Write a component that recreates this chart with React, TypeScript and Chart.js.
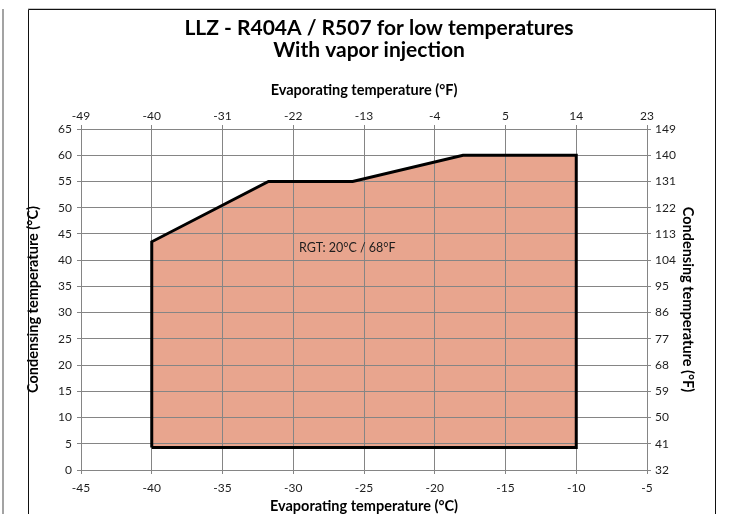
import React, { useEffect, useRef } from 'react';
import { Chart, registerables } from 'chart.js';

Chart.register(...registerables);

// ---- data ----
const titleLines = ['LLZ - R404A / R507 for low temperatures', 'With vapor injection'];
const evaporatingC = [-40, -40, -31.75, -25.8, -18, -10, -10, -40];
const condensingC = [4.3, 43.5, 55, 55, 60, 60, 4.3, 4.3];
const topTickLabelsF = ['-49', '-40', '-31', '-22', '-13', '-4', '5', '14', '23'];
const rightTickLabelsF = ['32', '41', '50', '59', '68', '77', '86', '95', '104', '113', '122', '131', '140', '149'];
const xRangeC = [-45, -5];
const yRangeC = [0, 65];
const tickStep = 5;
const rgtLabel = 'RGT: 20°C / 68°F';
const rgtPosition = [-29.6, 42.4];
const axisTitles = {
  bottom: 'Evaporating temperature (°C)',
  top: 'Evaporating temperature (°F)',
  left: 'Condensing temperature (°C)',
  right: 'Condensing temperature (°F)',
};

const FONT = 'Lato';
const GRID = '#858585';
const TEXT = '#1e1e1e';
const FILL = '#E8A58E';

const framePlugin = {
  id: 'frameAndTitle',
  afterDraw(chart: any) {
    const ctx = chart.ctx;
    ctx.save();
    // outer frames
    ctx.strokeStyle = '#a3a3a3';
    ctx.lineWidth = 2;
    ctx.beginPath();
    ctx.moveTo(3, 9);
    ctx.lineTo(3, 520);
    ctx.stroke();
    ctx.strokeStyle = '#c8c8c8';
    ctx.lineWidth = 1;
    ctx.beginPath();
    ctx.moveTo(28, 8.5);
    ctx.lineTo(716, 8.5);
    ctx.stroke();
    ctx.strokeStyle = '#111';
    ctx.lineWidth = 1;
    ctx.beginPath();
    ctx.moveTo(28.5, 520);
    ctx.lineTo(28.5, 9.5);
    ctx.lineTo(715.5, 9.5);
    ctx.lineTo(715.5, 520);
    ctx.stroke();

    // title
    ctx.fillStyle = '#000';
    ctx.font = `bold 21px ${FONT}`;
    ctx.textAlign = 'center';
    ctx.textBaseline = 'alphabetic';
    ctx.fillText(titleLines[0], 379, 35);
    ctx.fillText(titleLines[1], 369, 57);

    // RGT annotation
    const xs = chart.scales.x;
    const ys = chart.scales.y;
    ctx.font = `12.5px ${FONT}`;
    ctx.fillStyle = TEXT;
    ctx.textAlign = 'left';
    ctx.textBaseline = 'middle';
    ctx.fillText(rgtLabel, xs.getPixelForValue(rgtPosition[0]), ys.getPixelForValue(rgtPosition[1]));
    ctx.restore();
  },
};

const tickFont = { family: FONT, size: 12 };
const titleFont = { family: FONT, size: 14.5, weight: 'bold' as const, lineHeight: 1 };

export default function App() {
  const ref = useRef<HTMLCanvasElement>(null);

  useEffect(() => {
    if (!ref.current) return;
    const chart = new Chart(ref.current, {
      type: 'scatter',
      data: {
        datasets: [
          {
            data: evaporatingC.map((x, i) => ({ x, y: condensingC[i] })),
            showLine: true,
            fill: 'shape',
            backgroundColor: FILL,
            borderColor: '#000',
            borderWidth: 3,
            borderJoinStyle: 'miter',
            pointRadius: 0,
            tension: 0,
          } as any,
        ],
      },
      options: {
        responsive: false,
        maintainAspectRatio: false,
        animation: false,
        events: [],
        layout: { padding: { left: 28, right: 17, top: 75, bottom: 0 } },
        plugins: {
          legend: { display: false },
          tooltip: { enabled: false },
          filler: { drawTime: 'beforeDraw' },
        } as any,
        scales: {
          x: {
            type: 'linear',
            position: 'bottom',
            min: xRangeC[0],
            max: xRangeC[1],
            afterFit: (s: any) => { s.height = 44; },
            ticks: { stepSize: tickStep, font: tickFont, color: TEXT, padding: 7, maxRotation: 0 },
            grid: { color: GRID, lineWidth: 1, tickLength: 4 },
            border: { color: GRID },
            title: { display: true, text: axisTitles.bottom, font: titleFont, color: '#000', padding: { top: 0, bottom: 0 } },
          },
          x2: {
            type: 'linear',
            position: 'top',
            min: xRangeC[0],
            max: xRangeC[1],
            afterFit: (s: any) => { s.height = 54; },
            ticks: {
              stepSize: tickStep,
              font: tickFont,
              color: TEXT,
              padding: 2,
              maxRotation: 0,
              callback: (v: any) => topTickLabelsF[Math.round((Number(v) - xRangeC[0]) / tickStep)],
            },
            grid: { color: GRID, lineWidth: 1, tickLength: 4, drawOnChartArea: false },
            border: { color: GRID },
            title: { display: true, text: axisTitles.top, font: titleFont, color: '#000', padding: { top: 8.5, bottom: 0 } },
          },
          y: {
            type: 'linear',
            position: 'left',
            min: yRangeC[0],
            max: yRangeC[1],
            afterFit: (s: any) => { s.width = 53; },
            ticks: { stepSize: tickStep, font: tickFont, color: TEXT, padding: 5 },
            grid: { color: GRID, lineWidth: 1, tickLength: 4 },
            border: { color: GRID },
            title: { display: true, text: axisTitles.left, font: titleFont, color: '#000', padding: { top: -1.5, bottom: 0 } },
          },
          y2: {
            type: 'linear',
            position: 'right',
            min: yRangeC[0],
            max: yRangeC[1],
            afterFit: (s: any) => { s.width = 68; },
            ticks: {
              stepSize: tickStep,
              font: tickFont,
              color: TEXT,
              padding: 4,
              callback: (v: any) => rightTickLabelsF[Math.round((Number(v) - yRangeC[0]) / tickStep)],
            },
            grid: { color: GRID, lineWidth: 1, tickLength: 4, drawOnChartArea: false },
            border: { color: GRID },
            title: { display: true, text: axisTitles.right, font: titleFont, color: '#000', padding: { top: 20.5, bottom: 0 } },
          },
        },
      } as any,
      plugins: [framePlugin],
    });
    return () => chart.destroy();
  }, []);

  return (
    <div style={{ position: 'fixed', left: 0, top: 0, width: 732, height: 514, overflow: 'hidden', background: '#fff' }}>
      <canvas ref={ref} width={732} height={514} style={{ display: 'block' }} />
    </div>
  );
}
